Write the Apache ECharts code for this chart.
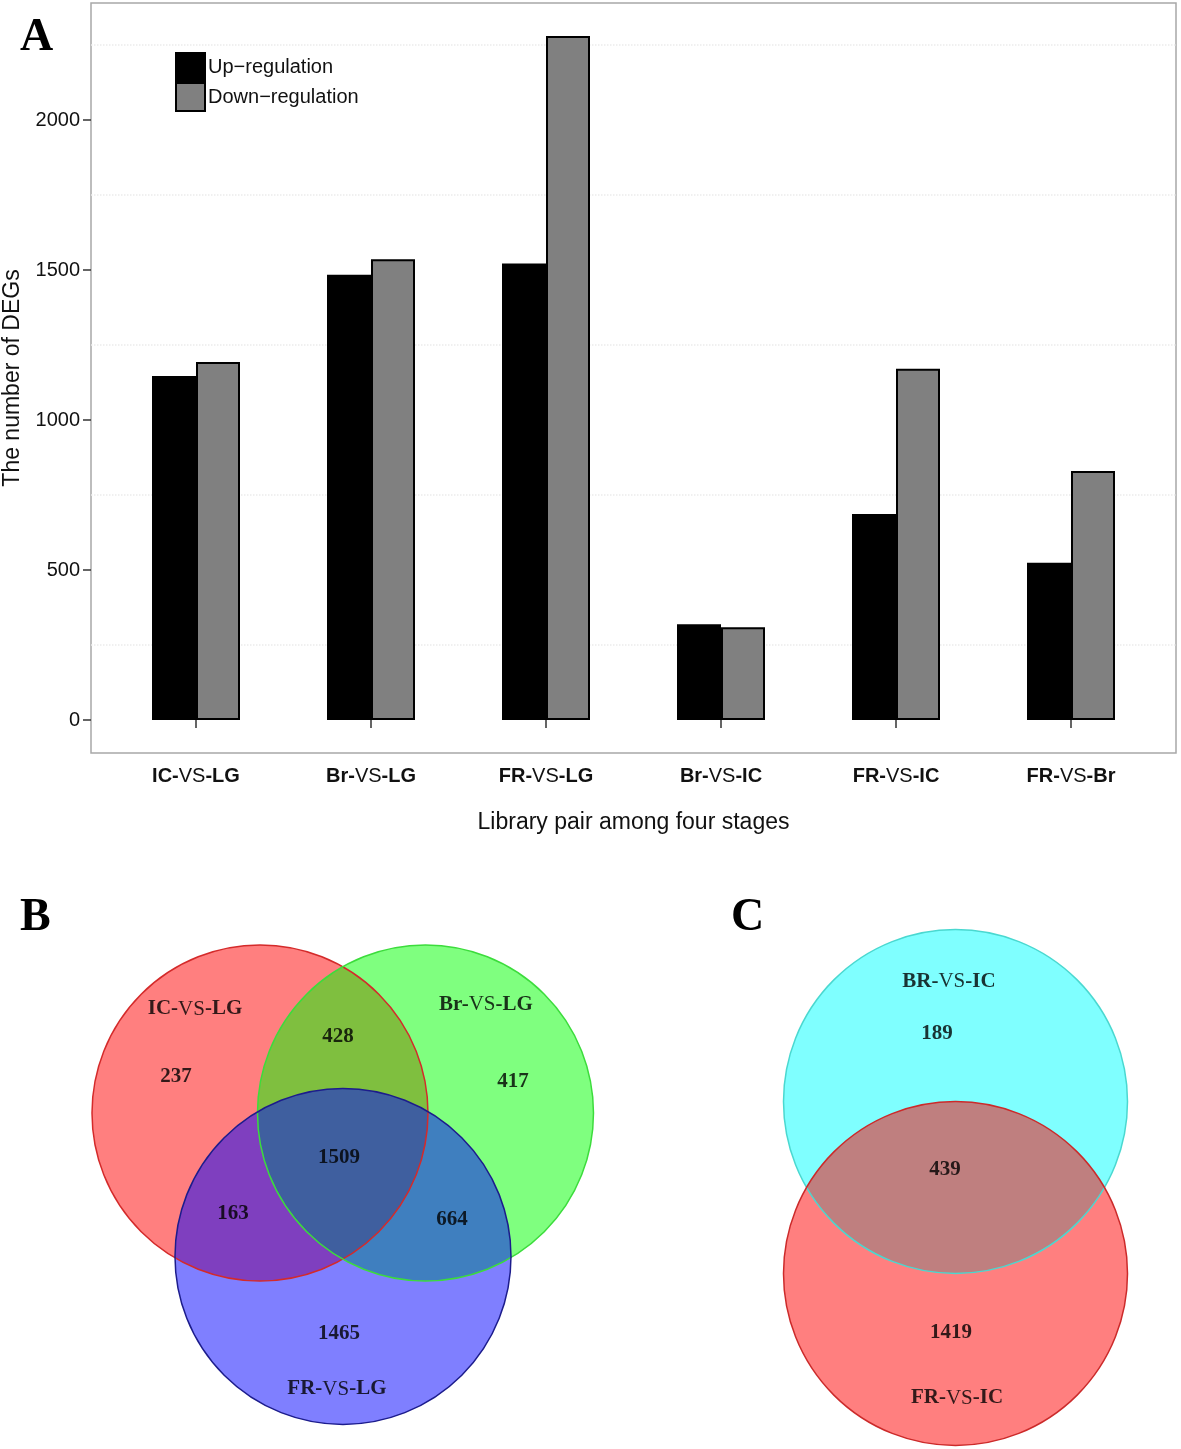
<!DOCTYPE html>
<html>
<head>
<meta charset="utf-8">
<script src="https://cdn.jsdelivr.net/npm/echarts@6/dist/echarts.min.js"></script>
<style>
html,body{margin:0;padding:0;background:#fff;}
#main{width:1181px;height:1449px;}
</style>
</head>
<body>
<div id="main"></div>
<script>
// ---------- Panel A data ----------
const categories = ['IC-VS-LG', 'Br-VS-LG', 'FR-VS-LG', 'Br-VS-IC', 'FR-VS-IC', 'FR-VS-Br'];
const upRegulation = [1147, 1484, 1522, 319, 687, 524];
const downRegulation = [1193, 1536, 2280, 309, 1171, 830];
const yTicks = [0, 500, 1000, 1500, 2000];
const faintGrid = [250, 750, 1250, 1750, 2250];
const seriesNames = ['Up\u2212regulation', 'Down\u2212regulation'];

// ---------- Panel B data (Venn, units of circle radius) ----------
const vennBSets = ['IC-VS-LG', 'Br-VS-LG', 'FR-VS-LG'];
const vennBLayout = [[0, 0, 1], [0.985, 0, 1], [0.494, -0.854, 1]];
const vennBSetLabelAt = [[-0.387, 0.619], [1.345, 0.643], [0.458, -1.643]];
const vennBCounts = [237, 428, 417, 1509, 163, 664, 1465];
const vennBCountAt = [[-0.5, 0.214], [0.464, 0.452], [1.506, 0.185], [0.470, -0.268], [-0.161, -0.601], [1.143, -0.637], [0.470, -1.315]];

// ---------- Panel C data ----------
const vennCSets = ['BR-VS-IC', 'FR-VS-IC'];
const vennCLayout = [[0, 0, 1], [0, -1.0, 1]];
const vennCSetLabelAt = [[-0.038, 0.695], [0.009, -1.724]];
const vennCCounts = [189, 439, 1419];
const vennCCountAt = [[-0.108, 0.392], [-0.061, -0.398], [-0.026, -1.346]];

const SANS = '"Liberation Sans", Arial, Helvetica, sans-serif';
const SERIF = '"Liberation Serif", "Times New Roman", serif';

function richName(name) {
  const parts = name.split('-VS-');
  return '{b|' + parts[0] + '-}{n|VS}{b|-' + parts[1] + '}';
}

const chart = echarts.init(document.getElementById('main'), null, {renderer: 'canvas', width: 1181, height: 1449});

function circleFill(fills) {
  return function (params, api) {
    const c = api.coord([api.value(0), api.value(1)]);
    const r = api.size([api.value(2), api.value(2)])[0];
    return {type: 'circle', shape: {cx: c[0], cy: c[1], r: r}, style: {fill: fills[params.dataIndex], stroke: null}};
  };
}
function circleStroke(strokes) {
  return function (params, api) {
    const c = api.coord([api.value(0), api.value(1)]);
    const r = api.size([api.value(2), api.value(2)])[0];
    return {type: 'circle', shape: {cx: c[0], cy: c[1], r: r}, style: {fill: null, stroke: strokes[params.dataIndex], lineWidth: 1.5}};
  };
}

const vennRich = {
  b: {fontFamily: SERIF, fontWeight: 'bold', fontSize: 21, color: '#000', textBorderWidth: 0},
  n: {fontFamily: SERIF, fontWeight: 'normal', fontSize: 21, color: '#000', textBorderWidth: 0}
};

function labelSeries(xi, points, texts, isName) {
  return {
    type: 'scatter', xAxisIndex: xi, yAxisIndex: xi, silent: true,
    symbolSize: 1, itemStyle: {color: 'rgba(0,0,0,0)'},
    data: points.map((p, i) => ({value: [p[0], p[1]], txt: texts[i]})),
    label: {
      show: true, position: 'inside', color: '#000', textBorderWidth: 0,
      formatter: function (p) { return isName ? richName(p.data.txt) : '{b|' + p.data.txt + '}'; },
      rich: vennRich
    },
    z: 10
  };
}

const option = {
  backgroundColor: '#fff',
  animation: false,
  title: [
    {text: 'A', left: 15, top: 10, textStyle: {fontFamily: SERIF, fontWeight: 'bold', fontSize: 46, color: '#000'}},
    {text: 'B', left: 15, top: 890, textStyle: {fontFamily: SERIF, fontWeight: 'bold', fontSize: 46, color: '#000'}},
    {text: 'C', left: 726, top: 890, textStyle: {fontFamily: SERIF, fontWeight: 'bold', fontSize: 46, color: '#000'}}
  ],
  legend: {
    orient: 'vertical', left: 175, top: 52, padding: 0,
    itemWidth: 29, itemHeight: 28, itemGap: 0,
    icon: 'rect',
    data: seriesNames,
    textStyle: {fontFamily: SANS, fontSize: 20, color: '#111', padding: [0, 0, 0, -2]}
  },
  grid: [
    {left: 91, top: 3, width: 1085, height: 750, show: true, borderColor: '#a8a8a8', borderWidth: 1.5, backgroundColor: '#fff', outerBoundsMode: 'none', containLabel: false},
    {left: 58.4, top: 903, width: 571.2, height: 537.6, outerBoundsMode: 'none', containLabel: false},
    {left: 749.1, top: 895.1, width: 412.8, height: 550.4, outerBoundsMode: 'none', containLabel: false}
  ],
  xAxis: [
    {
      type: 'value', gridIndex: 0, min: 0.4, max: 6.6,
      axisLine: {show: false},
      splitLine: {show: false},
      axisTick: {show: true, customValues: [1, 2, 3, 4, 5, 6], length: 8, lineStyle: {color: '#333', width: 1.5}},
      axisLabel: {
        customValues: [1, 2, 3, 4, 5, 6], margin: 13,
        formatter: function (v) { return richName(categories[Math.round(v) - 1]); },
        rich: {
          b: {fontFamily: SANS, fontWeight: 'bold', fontSize: 20, color: '#111'},
          n: {fontFamily: SANS, fontWeight: 'normal', fontSize: 20, color: '#111'}
        }
      },
      name: 'Library pair among four stages', nameLocation: 'middle', nameGap: 58,
      nameTextStyle: {fontFamily: SANS, fontSize: 23, color: '#111'}
    },
    {type: 'value', gridIndex: 1, min: -1.2, max: 2.2, show: false},
    {type: 'value', gridIndex: 2, min: -1.2, max: 1.2, show: false}
  ],
  yAxis: [
    {
      type: 'value', gridIndex: 0, min: -110, max: 2390,
      axisLine: {show: false},
      splitLine: {show: false},
      axisTick: {show: true, customValues: yTicks, length: 8, lineStyle: {color: '#333', width: 1.5}},
      axisLabel: {customValues: yTicks, margin: 11, fontFamily: SANS, fontSize: 20, color: '#111',
        formatter: function (v) { return String(v); }},
      name: 'The number of DEGs', nameLocation: 'middle', nameRotate: 90, nameGap: 66,
      nameTextStyle: {fontFamily: SANS, fontSize: 23, color: '#111'}
    },
    {type: 'value', gridIndex: 1, min: -1.95, max: 1.25, show: false},
    {type: 'value', gridIndex: 2, min: -2.0, max: 1.2, show: false}
  ],
  series: [
    {
      name: 'grid-lines', type: 'line', xAxisIndex: 0, yAxisIndex: 0, data: [], silent: true, z: 1,
      markLine: {
        silent: true, symbol: ['none', 'none'], label: {show: false}, z: 1,
        lineStyle: {color: '#ececec', type: 'dotted', width: 1.5},
        data: faintGrid.map(v => ({yAxis: v}))
      }
    },
    {
      name: seriesNames[0], type: 'bar', xAxisIndex: 0, yAxisIndex: 0,
      barWidth: 44, barGap: '0%',
      itemStyle: {color: '#000', borderColor: '#000', borderWidth: 2},
      data: upRegulation.map((v, i) => [i + 1, v]),
      z: 3
    },
    {
      name: seriesNames[1], type: 'bar', xAxisIndex: 0, yAxisIndex: 0,
      barWidth: 44, barGap: '0%',
      itemStyle: {color: '#808080', borderColor: '#000', borderWidth: 2},
      data: downRegulation.map((v, i) => [i + 1, v]),
      z: 3
    },
    // Venn B fills
    {
      type: 'custom', xAxisIndex: 1, yAxisIndex: 1, silent: true,
      renderItem: circleFill(['rgba(255,0,0,0.5)', 'rgba(0,255,0,0.5)', 'rgba(0,0,255,0.5)']),
      data: vennBLayout, z: 2
    },
    {
      type: 'custom', xAxisIndex: 1, yAxisIndex: 1, silent: true,
      renderItem: circleStroke(['#d42a2a', '#3cdc3c', '#1c1c8c']),
      data: vennBLayout, z: 3
    },
    labelSeries(1, vennBSetLabelAt, vennBSets, true),
    labelSeries(1, vennBCountAt, vennBCounts.map(String), false),
    // Venn C fills
    {
      type: 'custom', xAxisIndex: 2, yAxisIndex: 2, silent: true,
      renderItem: circleFill(['rgba(0,255,255,0.5)', 'rgba(255,0,0,0.5)']),
      data: vennCLayout, z: 2
    },
    {
      type: 'custom', xAxisIndex: 2, yAxisIndex: 2, silent: true,
      renderItem: circleStroke(['#4ad8d0', '#cc2a2a']),
      data: vennCLayout, z: 3
    },
    labelSeries(2, vennCSetLabelAt, vennCSets, true),
    labelSeries(2, vennCCountAt, vennCCounts.map(String), false)
  ]
};
chart.setOption(option);
</script>
</body>
</html>
